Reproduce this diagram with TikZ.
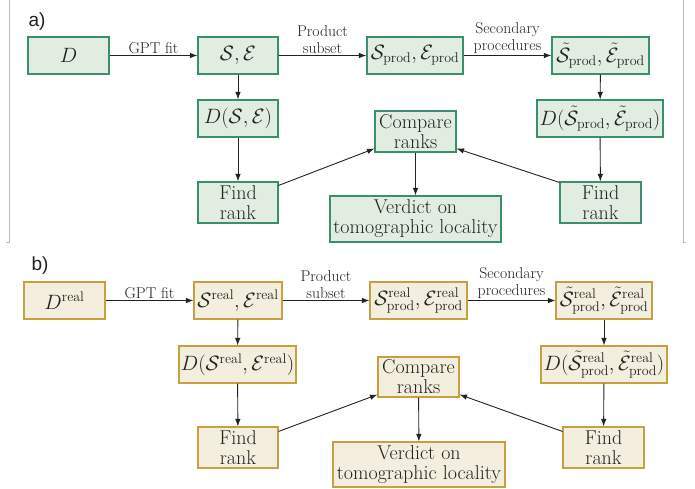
\documentclass[tikz,border=0pt]{standalone}
\usepackage{fontspec}
\newfontfamily\labfont{Liberation Sans}
\usetikzlibrary{arrows.meta}
\definecolor{greenb}{HTML}{3A8F6E}
\definecolor{greenf}{HTML}{E2EDE2}
\definecolor{tanb}{HTML}{C8A040}
\definecolor{tanf}{HTML}{F3EEDD}
\definecolor{framec}{HTML}{BBBBBB}
\definecolor{ink}{HTML}{222222}
\newcommand{\mainsz}{\fontsize{20}{20}\selectfont}
\newcommand{\labsz}{\fontsize{15.7}{16.5}\selectfont}
\tikzset{
  boxa/.style={draw=greenb, fill=greenf, line width=1.1pt, minimum height=37pt, inner sep=1pt, align=center, font=\mainsz, text=ink},
  boxb/.style={draw=tanb, fill=tanf, line width=1.1pt, minimum height=37pt, inner sep=1pt, align=center, font=\mainsz, text=ink},
  conn/.style={draw=ink, line width=0.9pt, -{Latex[length=7.5pt,width=5.5pt]}},
  elab/.style={above, midway, font=\labsz, align=center, text=ink, inner sep=1.5pt},
  panel/.style={font=\labfont\fontsize{19}{22}\selectfont, text=ink},
  framel/.style={draw=framec, line width=0.8pt}
}
\begin{document}
\begin{tikzpicture}[x=1pt,y=-1pt]
\useasboundingbox (0,0) rectangle (695,488);
% frame of panel a
\coordinate (fl1) at (9,0); \coordinate (fl2) at (9,242); \coordinate (fl3) at (6,242);
\coordinate (fr1) at (683,0); \coordinate (fr2) at (683,242); \coordinate (fr3) at (686,242);
\draw[framel] (fl1) -- (fl2) -- (fl3);
\draw[framel] (fr1) -- (fr2) -- (fr3);
% ---------- panel a ----------
\node[panel] (pa) at (37,22) {a)};
\node[boxa, minimum width=81pt] (aD) at (68.5,55.5) {$D$};
\node[boxa, minimum width=80pt] (aSE) at (238,55.5) {$\mathcal{S},\mathcal{E}$};
\node[boxa, minimum width=96pt] (aSp) at (415,55.5) {$\mathcal{S}_{\mathrm{prod}},\mathcal{E}_{\mathrm{prod}}$};
\node[boxa, minimum width=97pt] (aSt) at (600.5,55.5) {$\tilde{\mathcal{S}}_{\mathrm{prod}},\tilde{\mathcal{E}}_{\mathrm{prod}}$};
\node[boxa, minimum width=80pt] (aDSE) at (238,118.5) {$D(\mathcal{S},\mathcal{E})$};
\node[boxa, minimum width=126pt] (aDSt) at (600,118.5) {$D(\tilde{\mathcal{S}}_{\mathrm{prod}},\tilde{\mathcal{E}}_{\mathrm{prod}})$};
\node[boxa, minimum width=81pt, minimum height=41pt] (aCmp) at (415.5,131.5) {Compare\\ranks};
\node[boxa, minimum width=80pt, minimum height=41pt] (aFL) at (238,202.5) {Find\\rank};
\node[boxa, minimum width=81pt, minimum height=41pt] (aFR) at (600.5,202.5) {Find\\rank};
\node[boxa, minimum width=171pt, minimum height=46pt] (aV) at (415.5,219) {Verdict on\\tomographic locality};
\draw[conn] (aD) -- node[elab] {GPT fit} (aSE);
\draw[conn] (aSE) -- node[elab] {Product\\subset} (aSp);
\draw[conn] (aSp) -- node[elab] {Secondary\\procedures} (aSt);
\draw[conn] (aSE) -- (aDSE);
\draw[conn] (aDSE) -- (aFL);
\draw[conn] (aSt) -- (aDSt);
\draw[conn] (aDSt) -- (aFR);
\draw[conn] ([yshift=-4pt]aFL.north east) -- ([yshift=4pt]aCmp.south west);
\draw[conn] ([yshift=-1pt]aFR.north west) -- ([yshift=4pt]aCmp.south east);
\draw[conn] (aCmp) -- (aV);
% ---------- panel b ----------
\node[panel] (pb) at (40,266) {b)};
\node[boxb, minimum width=81pt] (bD) at (64.5,300.5) {$D^{\mathrm{real}}$};
\node[boxb, minimum width=88pt] (bSE) at (238,300.5) {$\mathcal{S}^{\mathrm{real}},\mathcal{E}^{\mathrm{real}}$};
\node[boxb, minimum width=97pt] (bSp) at (418.5,300.5) {$\mathcal{S}^{\mathrm{real}}_{\mathrm{prod}},\mathcal{E}^{\mathrm{real}}_{\mathrm{prod}}$};
\node[boxb, minimum width=96pt] (bSt) at (604,300.5) {$\tilde{\mathcal{S}}^{\mathrm{real}}_{\mathrm{prod}},\tilde{\mathcal{E}}^{\mathrm{real}}_{\mathrm{prod}}$};
\node[boxb, minimum width=117pt] (bDSE) at (237.5,364.5) {$D(\mathcal{S}^{\mathrm{real}},\mathcal{E}^{\mathrm{real}})$};
\node[boxb, minimum width=126pt] (bDSt) at (604,364.5) {$D(\tilde{\mathcal{S}}^{\mathrm{real}}_{\mathrm{prod}},\tilde{\mathcal{E}}^{\mathrm{real}}_{\mathrm{prod}})$};
\node[boxb, minimum width=81pt, minimum height=40pt] (bCmp) at (418.5,377) {Compare\\ranks};
\node[boxb, minimum width=80pt, minimum height=41pt] (bFL) at (238,447.5) {Find\\rank};
\node[boxb, minimum width=81pt, minimum height=41pt] (bFR) at (603.5,447.5) {Find\\rank};
\node[boxb, minimum width=172pt, minimum height=45pt] (bV) at (419,464.5) {Verdict on\\tomographic locality};
\draw[conn] (bD) -- node[elab] {GPT fit} (bSE);
\draw[conn] (bSE) -- node[elab] {Product\\subset} (bSp);
\draw[conn] (bSp) -- node[elab] {Secondary\\procedures} (bSt);
\draw[conn] (bSE) -- (bDSE);
\draw[conn] (bDSE) -- (bFL);
\draw[conn] (bSt) -- (bDSt);
\draw[conn] (bDSt) -- (bFR);
\draw[conn] ([yshift=-5pt]bFL.north east) -- ([yshift=3pt]bCmp.south west);
\draw[conn] ([yshift=-5pt]bFR.north west) -- ([yshift=3pt]bCmp.south east);
\draw[conn] (bCmp) -- (bV);
\end{tikzpicture}
\end{document}
